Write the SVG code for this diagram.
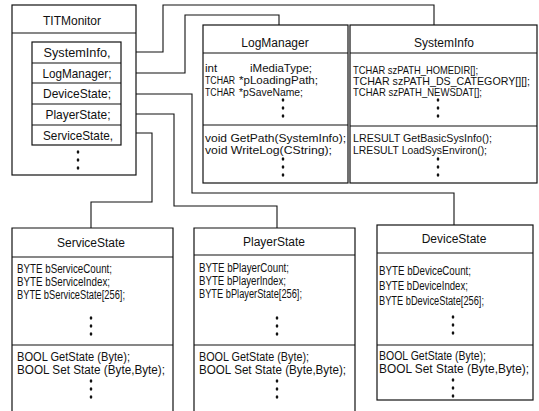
<svg xmlns="http://www.w3.org/2000/svg" width="539" height="411" viewBox="0 0 539 411">
<style>
.box{fill:#fff;stroke:#111;stroke-width:1.2}
.ln{fill:none;stroke:#111;stroke-width:1.2}
.cn{fill:none;stroke:#111;stroke-width:1.1}
text{font-family:"Liberation Sans",Arial,sans-serif;font-size:12px;fill:#111}
.c{text-anchor:middle}
.s{font-size:11.5px}
.b{font-size:12.5px}
.m{font-size:13px}
.d{fill:#111}
</style>
<defs>
<g id="dots"><ellipse cx="0" cy="0" rx="1.3" ry="1.7" class="d"/><ellipse cx="0" cy="8" rx="1.3" ry="1.7" class="d"/><ellipse cx="0" cy="16" rx="1.3" ry="1.7" class="d"/></g>
</defs>
<rect width="539" height="411" fill="#fff"/>

<g id="connectors">
<path class="cn" d="M121,52 H163 V5 H434 V25"/>
<path class="cn" d="M121,73 H185 V15 H279 V25"/>
<path class="cn" d="M121,94 H192 V193 H454 V225"/>
<path class="cn" d="M121,114 H174 V206 H277 V228"/>
<path class="cn" d="M121,133 H152 V202 H91 V228"/>
</g>

<g id="TITMonitor">
<rect class="box" x="12" y="5" width="124" height="170"/>
<line class="ln" x1="12" y1="33" x2="136" y2="33"/>
<text class="c" x="72" y="25">TITMonitor</text>
<rect class="box" x="32" y="42" width="89" height="103"/>
<path class="ln" d="M32,63 H121 M32,83 H121 M32,104 H121 M32,125 H121"/>
<text class="c m" x="77" y="57" textLength="67" lengthAdjust="spacingAndGlyphs">SystemInfo,</text>
<text class="c m" x="77" y="78" textLength="69" lengthAdjust="spacingAndGlyphs">LogManager;</text>
<text class="c m" x="77" y="98" textLength="68" lengthAdjust="spacingAndGlyphs">DeviceState;</text>
<text class="c m" x="78" y="119" textLength="65" lengthAdjust="spacingAndGlyphs">PlayerState;</text>
<text class="c m" x="78" y="140" textLength="70" lengthAdjust="spacingAndGlyphs">ServiceState,</text>
<use href="#dots" x="78" y="152"/>
</g>

<g id="LogManager">
<rect class="box" x="203" y="25" width="145" height="158"/>
<path class="ln" d="M203,53 H348 M203,125 H348"/>
<text class="c" x="275" y="47">LogManager</text>
<text class="s" x="205" y="72">int</text>
<text class="s" x="250" y="72" textLength="62" lengthAdjust="spacingAndGlyphs">iMediaType;</text>
<text class="s" transform="translate(205,84) scale(0.76,1)">TCHAR</text>
<text class="s" x="239" y="84" textLength="79" lengthAdjust="spacingAndGlyphs">*pLoadingPath;</text>
<text class="s" transform="translate(205,96) scale(0.76,1)">TCHAR</text>
<text class="s" x="239" y="96" textLength="64" lengthAdjust="spacingAndGlyphs">*pSaveName;</text>
<use href="#dots" x="283" y="100"/>
<text class="s" x="205" y="142" textLength="141" lengthAdjust="spacingAndGlyphs">void GetPath(SystemInfo);</text>
<text class="s" x="205" y="154" textLength="127" lengthAdjust="spacingAndGlyphs">void  WriteLog(CString);</text>
<use href="#dots" x="283" y="159"/>
</g>

<g id="SystemInfo">
<rect class="box" x="350" y="25" width="187" height="158"/>
<path class="ln" d="M350,53 H537 M350,126 H537"/>
<text class="c" x="444" y="47">SystemInfo</text>
<text class="s" x="353" y="74" textLength="125" lengthAdjust="spacingAndGlyphs">TCHAR szPATH_HOMEDIR[];</text>
<text x="353" y="85" style="font-size:10.8px" textLength="177" lengthAdjust="spacingAndGlyphs">TCHAR szPATH_DS_CATEGORY[][];</text>
<text class="s" x="353" y="96" textLength="129" lengthAdjust="spacingAndGlyphs">TCHAR szPATH_NEWSDAT[];</text>
<use href="#dots" x="438" y="100"/>
<text class="s" x="353" y="142" textLength="139" lengthAdjust="spacingAndGlyphs">LRESULT GetBasicSysInfo();</text>
<text class="s" x="353" y="154" textLength="134" lengthAdjust="spacingAndGlyphs">LRESULT LoadSysEnviron();</text>
<use href="#dots" x="438" y="159"/>
</g>

<g id="ServiceState">
<path class="box" d="M12,413 V228 H173 V413"/>
<path class="ln" d="M12,257 H173 M12,345 H173"/>
<text class="c" x="91" y="247">ServiceState</text>
<text class="b" x="17" y="273" textLength="95" lengthAdjust="spacingAndGlyphs">BYTE bServiceCount;</text>
<text class="b" x="17" y="286" textLength="93" lengthAdjust="spacingAndGlyphs">BYTE bServiceIndex;</text>
<text class="b" x="17" y="299" textLength="108" lengthAdjust="spacingAndGlyphs">BYTE bServiceState[256];</text>
<use href="#dots" x="91" y="318"/>
<text class="b" x="17" y="361" textLength="113" lengthAdjust="spacingAndGlyphs">BOOL GetState (Byte);</text>
<text class="b" x="17" y="374" textLength="148" lengthAdjust="spacingAndGlyphs">BOOL Set State (Byte,Byte);</text>
<use href="#dots" x="91" y="381"/>
</g>

<g id="PlayerState">
<path class="box" d="M194,413 V228 H355 V413"/>
<path class="ln" d="M194,255 H355 M194,345 H355"/>
<text class="c" x="274" y="246">PlayerState</text>
<text class="b" x="199" y="272" textLength="90" lengthAdjust="spacingAndGlyphs">BYTE bPlayerCount;</text>
<text class="b" x="199" y="285" textLength="87" lengthAdjust="spacingAndGlyphs">BYTE bPlayerIndex;</text>
<text class="b" x="199" y="298" textLength="103" lengthAdjust="spacingAndGlyphs">BYTE bPlayerState[256];</text>
<use href="#dots" x="277" y="318"/>
<text class="b" x="199" y="361" textLength="110" lengthAdjust="spacingAndGlyphs">BOOL GetState (Byte);</text>
<text class="b" x="199" y="374" textLength="147" lengthAdjust="spacingAndGlyphs">BOOL Set State (Byte,Byte);</text>
<use href="#dots" x="277" y="381"/>
</g>

<g id="DeviceState">
<rect class="box" x="377" y="225" width="156" height="175"/>
<path class="ln" d="M377,253 H533 M377,345 H533"/>
<text class="c" x="454" y="243">DeviceState</text>
<text class="b" x="379" y="275" textLength="92" lengthAdjust="spacingAndGlyphs">BYTE bDeviceCount;</text>
<text class="b" x="379" y="290" textLength="89" lengthAdjust="spacingAndGlyphs">BYTE bDeviceIndex;</text>
<text class="b" x="379" y="305" textLength="105" lengthAdjust="spacingAndGlyphs">BYTE bDeviceState[256];</text>
<use href="#dots" x="453" y="317"/>
<text class="b" x="379" y="360" textLength="107" lengthAdjust="spacingAndGlyphs">BOOL GetState (Byte);</text>
<text class="b" x="379" y="373" textLength="150" lengthAdjust="spacingAndGlyphs">BOOL Set State (Byte,Byte);</text>
<use href="#dots" x="453" y="380"/>
</g>
</svg>
